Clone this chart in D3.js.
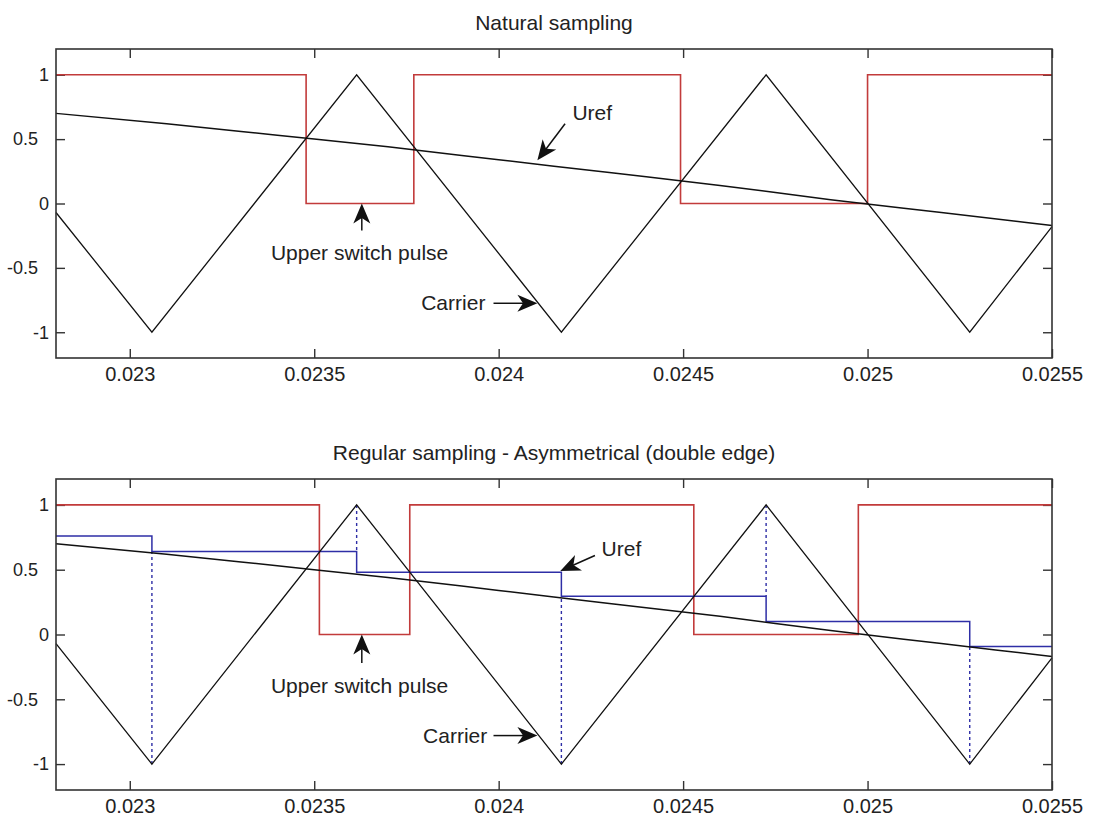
<!DOCTYPE html>
<html>
<head>
<meta charset="utf-8">
<script src="https://cdn.jsdelivr.net/npm/d3@7"></script>
<style>
  body { margin: 0; background: #fff; }
  svg text { font-family: "Liberation Sans", Arial, sans-serif; fill: #222; }
</style>
</head>
<body>
<div id="chart"></div>
<script>
"use strict";

// axis settings
const xDomain = [0.0228, 0.0255];
const yDomain = [-1.2, 1.2];
const xTicks = [0.023, 0.0235, 0.024, 0.0245, 0.025, 0.0255];
const yTicks = [-1, -0.5, 0, 0.5, 1];

// triangular carrier (vertices)
const carrierT = [0.0228, 0.02306, 0.023615, 0.02417, 0.024725, 0.025277, 0.0255];
const carrierV = [-0.07, -1, 1, -1, 1, -1, -0.18];

// reference voltage
const urefT = [0.0228, 0.0231, 0.0234, 0.0237, 0.024, 0.0243, 0.0246, 0.0249, 0.0252, 0.0255];
const urefV = [0.70, 0.62, 0.53, 0.44, 0.34, 0.24, 0.14, 0.03, -0.07, -0.17];

// upper switch pulse, natural sampling
const naturalEdges = [0.0228, 0.023478, 0.02377, 0.024493, 0.025, 0.0255];
const naturalLevels = [1, 0, 1, 0, 1];

// upper switch pulse, regular sampling
const regularEdges = [0.0228, 0.023514, 0.023759, 0.024529, 0.024975, 0.0255];
const regularLevels = [1, 0, 1, 0, 1];

// sampled reference (held levels between samples)
const sampleT = [0.0228, 0.02306, 0.023615, 0.02417, 0.024725, 0.025277, 0.0255];
const sampleV = [0.76, 0.64, 0.48, 0.295, 0.10, -0.093];

// annotations (data coordinates)
const topNotes = [
  { text: "Uref", tx: 0.0242, ty: 0.71, anchor: "start", from: [0.02418, 0.62], to: [0.024105, 0.335] },
  { text: "Upper switch pulse", tx: 0.023623, ty: -0.38, anchor: "middle", from: [0.023629, -0.21], to: [0.023629, 0] },
  { text: "Carrier", tx: 0.023964, ty: -0.77, anchor: "end", from: [0.023986, -0.775], to: [0.024105, -0.775] },
];
const bottomNotes = [
  { text: "Uref", tx: 0.024279, ty: 0.66, anchor: "start", from: [0.024261, 0.61], to: [0.024167, 0.49] },
  { text: "Upper switch pulse", tx: 0.023623, ty: -0.39, anchor: "middle", from: [0.023629, -0.22], to: [0.023629, 0] },
  { text: "Carrier", tx: 0.023969, ty: -0.78, anchor: "end", from: [0.023986, -0.78], to: [0.024105, -0.78] },
];

const W = 1096, H = 817;
const svg = d3.select("#chart").append("svg").attr("width", W).attr("height", H);
svg.append("rect").attr("width", W).attr("height", H).attr("fill", "#fff");

const RED = "#c23b3b", BLUE = "#2e2ea6", BLACK = "#111";

const arrow = (g, x1, y1, x2, y2) => {
  const L = 20, hw = 8.5;
  const a = Math.atan2(y2 - y1, x2 - x1);
  const c = Math.cos(a), s = Math.sin(a);
  const pt = (u, v) => [x2 + u * c - v * s, y2 + u * s + v * c];
  g.append("line").attr("x1", x1).attr("y1", y1)
    .attr("x2", pt(-L * 0.7, 0)[0]).attr("y2", pt(-L * 0.7, 0)[1])
    .attr("stroke", BLACK).attr("stroke-width", 1.5);
  const p = [pt(0, 0), pt(-L, -hw), pt(-L * 0.72, 0), pt(-L, hw)];
  g.append("path").attr("d", "M" + p.map((d) => d.join(",")).join("L") + "Z").attr("fill", BLACK);
};

const drawPanel = (box, title, edges, levels, notes, withSamples) => {
  const x = d3.scaleLinear().domain(xDomain).range([box.left, box.right]);
  const y = d3.scaleLinear().domain(yDomain).range([box.bottom, box.top]);
  const g = svg.append("g");

  // title
  g.append("text")
    .attr("x", (box.left + box.right) / 2)
    .attr("y", box.top - 19)
    .attr("text-anchor", "middle")
    .style("font-size", "21px")
    .text(title);

  // axes with inward ticks
  const xb = g.append("g").attr("transform", `translate(0,${box.bottom})`)
    .call(d3.axisBottom(x).tickValues(xTicks).tickSizeInner(-9).tickSizeOuter(0).tickPadding(9)
      .tickFormat((d) => String(+d.toFixed(4))));
  const xt = g.append("g").attr("transform", `translate(0,${box.top})`)
    .call(d3.axisTop(x).tickValues(xTicks).tickSizeInner(-9).tickSizeOuter(0).tickFormat(""));
  const yl = g.append("g").attr("transform", `translate(${box.left},0)`)
    .call(d3.axisLeft(y).tickValues(yTicks).tickSizeInner(-9).tickSizeOuter(0).tickPadding(7)
      .tickFormat((d) => String(d)));
  const yr = g.append("g").attr("transform", `translate(${box.right},0)`)
    .call(d3.axisRight(y).tickValues(yTicks).tickSizeInner(-9).tickSizeOuter(0).tickFormat(""));
  [xb, xt, yl, yr].forEach((a) => {
    a.select(".domain").remove();
    a.selectAll(".tick line").attr("stroke", "#333").attr("stroke-width", 1.4);
  });
  xb.selectAll(".tick text").style("font-size", "20px").attr("fill", "#222");
  yl.selectAll(".tick text").style("font-size", "18px").attr("fill", "#222")
    .attr("dx", (d) => (String(d).includes(".") ? -11 : 0));

  // series
  const line = d3.line().x((d) => x(d[0])).y((d) => y(d[1]));
  const step = d3.line().x((d) => x(d[0])).y((d) => y(d[1])).curve(d3.curveStepAfter);

  const pulse = edges.map((t, i) => [t, levels[Math.min(i, levels.length - 1)]]);
  g.append("path").datum(pulse)
    .attr("d", step)
    .attr("fill", "none").attr("stroke", RED).attr("stroke-width", 1.6);

  if (withSamples) {
    const held = sampleT.map((t, i) => [t, sampleV[Math.min(i, sampleV.length - 1)]]);
    g.append("path").datum(held)
      .attr("d", step)
      .attr("fill", "none").attr("stroke", BLUE).attr("stroke-width", 1.5);
    // dotted lines from carrier vertex to held level
    for (let i = 1; i < sampleT.length - 1; i++) {
      const t = sampleT[i];
      const v = carrierV[carrierT.indexOf(t)];
      const lv = v > 0 ? Math.max(sampleV[i - 1], sampleV[i]) : Math.min(sampleV[i - 1], sampleV[i]);
      g.append("line")
        .attr("x1", x(t)).attr("x2", x(t))
        .attr("y1", y(v)).attr("y2", y(lv))
        .attr("stroke", BLUE).attr("stroke-width", 1.4)
        .attr("stroke-dasharray", "3,3");
    }
  }

  g.append("path").datum(carrierT.map((t, i) => [t, carrierV[i]]))
    .attr("d", line)
    .attr("fill", "none").attr("stroke", BLACK).attr("stroke-width", 1.3);

  g.append("path").datum(urefT.map((t, i) => [t, urefV[i]]))
    .attr("d", d3.line().x((d) => x(d[0])).y((d) => y(d[1])).curve(d3.curveMonotoneX))
    .attr("fill", "none").attr("stroke", BLACK).attr("stroke-width", 1.5);

  // box
  g.append("rect")
    .attr("x", box.left).attr("y", box.top)
    .attr("width", box.right - box.left).attr("height", box.bottom - box.top)
    .attr("fill", "none").attr("stroke", "#333").attr("stroke-width", 1.6);

  // annotations
  notes.forEach((n) => {
    g.append("text")
      .attr("x", x(n.tx)).attr("y", y(n.ty))
      .attr("text-anchor", n.anchor)
      .attr("dominant-baseline", "central")
      .style("font-size", "21px")
      .text(n.text);
    arrow(g, x(n.from[0]), y(n.from[1]), x(n.to[0]), y(n.to[1]));
  });
};

drawPanel({ left: 56, top: 49, right: 1052, bottom: 358 }, "Natural sampling",
  naturalEdges, naturalLevels, topNotes, false);
drawPanel({ left: 56, top: 479, right: 1052, bottom: 790 }, "Regular sampling - Asymmetrical (double edge)",
  regularEdges, regularLevels, bottomNotes, true);
</script>
</body>
</html>
